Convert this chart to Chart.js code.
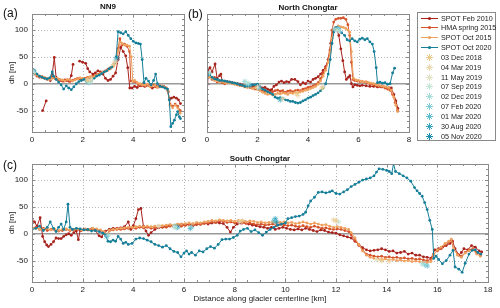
<!DOCTYPE html>
<html>
<head>
<meta charset="utf-8">
<script src="https://cdn.jsdelivr.net/npm/chart.js@4"></script>
<style>
  body { margin: 0; background: #fff; font-family: 'Liberation Sans', Arial, sans-serif; }
  #wrap { position: relative; width: 500px; height: 308px; overflow: hidden; }
  canvas { position: absolute; }
  .txt { position: absolute; color: #111; white-space: nowrap; }
  .ttl { font-weight: bold; font-size: 8px; transform: translate(-50%, -50%); }
  .pl { font-size: 12px; transform: translateY(-50%); }
  #legend { position: absolute; left: 417px; top: 12px; width: 77px; height: 127px; border: 1px solid #8a8a8a; background: #fff; }
  .row { position: absolute; left: 3px; height: 10px; display: flex; align-items: center; font-size: 7.2px; color: #222; white-space: nowrap; }
  .row svg { margin-right: 3px; flex: none; }
</style>
</head>
<body>
<div id="wrap">
  <canvas id="cA" width="190" height="145" style="left:0;top:0"></canvas>
  <canvas id="cB" width="225" height="145" style="left:190px;top:0"></canvas>
  <canvas id="cC" width="500" height="163" style="left:0;top:145px"></canvas>
  <div class="txt ttl" style="left:108px;top:6px">NN9</div>
  <div class="txt ttl" style="left:308px;top:7px">North Chongtar</div>
  <div class="txt ttl" style="left:260px;top:158px">South Chongtar</div>
  <div class="txt pl" style="left:3px;top:13px">(a)</div>
  <div class="txt pl" style="left:188px;top:14px">(b)</div>
  <div class="txt pl" style="left:3px;top:165px">(c)</div>
  <div id="legend"></div>
</div>
<script>
// series names and colours
const seriesNames = ['SPOT Feb 2010', 'HMA spring 2015', 'SPOT Oct 2015', 'SPOT Oct 2020'];
const seriesColors = ['#a8221c', '#d5532b', '#eea15e', '#157e98'];
const dateNames = ['03 Dec 2018', '04 Mar 2019', '11 May 2019', '07 Sep 2019', '02 Dec 2019',
                   '07 Feb 2020', '01 Mar 2020', '30 Aug 2020', '05 Nov 2020'];
const dateColors = ['#ebc98a', '#ead7b0', '#e2e2c4', '#c4e6d6', '#a6dcd8', '#84ccd4', '#5cbccc', '#34a4bc', '#1b8cac'];

// (a) NN9  [km, dh]
const nn9Feb2010 = [[0.42,-50],[0.56,-32],[0.6,null],[0.72,6],[0.8,18],[0.88,49],[0.95,12],[1.05,8],[1.15,6],[1.25,5],[1.35,6],[1.45,5],[1.55,15],[1.62,36],[1.75,null],
  [1.88,42],[2.0,40],[2.12,38],[2.2,28],[2.28,22],[2.4,18],[2.5,20],[2.6,24],[2.7,22],[2.8,18],[2.9,10],[3.0,6],[3.1,8],[3.2,14],[3.3,20],[3.4,45],[3.5,68],[3.6,60],
  [3.7,52],[3.78,30],[3.86,-8],[3.95,-8],[4.05,-5],[4.15,-7],[4.3,-4],[4.45,-5],[4.6,-3],[4.75,-8],[4.9,-5],[5.05,-4],[5.2,-6],[5.35,-12],[5.42,-30],[5.5,-27],[5.6,-25],
  [5.7,-27],[5.78,-30],[5.86,-37]];
const nn9Hma2015 = [[0,20],[0.1,18],[0.2,14],[0.3,12],[0.4,13],[0.5,10],[0.6,8],[0.7,9],[0.8,12],[0.9,10],[1.0,8],[1.1,6],[1.2,5],[1.3,7],[1.4,6],[1.5,4],[1.6,6],[1.7,8],
  [1.8,10],[1.9,9],[2.0,8],[2.1,10],[2.2,12],[2.3,10],[2.4,14],[2.5,16],[2.6,18],[2.7,20],[2.8,21],[2.9,24],[3.0,27],[3.1,30],[3.2,33],[3.3,40],[3.4,66],[3.47,84],
  [3.55,72],[3.65,74],[3.75,70],[3.85,60],[3.9,5],[4.0,4],[4.1,3],[4.2,-2],[4.3,-3],[4.4,0],[4.5,-4],[4.6,-3],[4.7,-6],[4.8,-2],[4.9,-6],[5.0,-6],[5.1,-5],[5.2,-5],
  [5.3,-8],[5.38,-15],[5.45,-38],[5.55,-42],[5.65,-38],[5.75,-42],[5.85,-50]];
const nn9Oct2015 = [[0,16],[0.1,20],[0.2,16],[0.3,14],[0.4,11],[0.5,12],[0.6,10],[0.7,8],[0.8,10],[0.9,12],[1.0,10],[1.1,8],[1.2,7],[1.3,5],[1.4,8],[1.5,7],[1.6,5],[1.7,7],
  [1.8,9],[1.9,11],[2.0,10],[2.1,8],[2.2,11],[2.3,13],[2.4,12],[2.5,15],[2.6,17],[2.7,19],[2.8,22],[2.9,23],[3.0,25],[3.1,28],[3.2,32],[3.3,38],[3.4,60],[3.47,78],
  [3.55,75],[3.65,72],[3.75,72],[3.85,70],[3.92,50],[3.98,5],[4.05,6],[4.15,2],[4.25,0],[4.35,-2],[4.45,-3],[4.55,-1],[4.65,-5],[4.75,-4],[4.85,-3],[4.95,-7],[5.05,-6],
  [5.15,-4],[5.25,-7],[5.35,-12],[5.45,-40],[5.55,-45],[5.65,-40],[5.75,-45],[5.85,-55]];
const nn9Oct2020 = [[0,22],[0.1,25],[0.2,18],[0.3,14],[0.4,12],[0.5,10],[0.6,9],[0.7,11],[0.8,22],[0.85,14],[0.95,8],[1.05,3],[1.15,-2],[1.25,-10],[1.35,-4],[1.45,-8],
  [1.55,-11],[1.65,-6],[1.75,0],[1.85,4],[1.95,6],[2.05,8],[2.15,5],[2.25,3],[2.35,6],[2.45,10],[2.55,14],[2.65,16],[2.75,19],[2.85,22],[2.95,24],[3.05,28],[3.15,31],
  [3.25,38],[3.32,50],[3.4,97],[3.5,95],[3.6,93],[3.7,97],[3.8,90],[3.9,84],[4.0,79],[4.1,76],[4.2,75],[4.28,74],[4.35,45],[4.42,2],[4.5,10],[4.6,5],[4.7,-2],[4.8,6],
  [4.88,18],[4.95,0],[5.05,-5],[5.15,-6],[5.25,-8],[5.35,-10],[5.42,-30],[5.48,-80],[5.55,-74],[5.62,-68],[5.7,-58],[5.75,-52],[5.82,-62],[5.86,-65]];

// (b) North Chongtar
const ncFeb2010 = [[0,-33],[0.05,27],[0.12,30],[0.2,22],[0.32,37],[0.4,10],[0.5,15],[0.55,18],[0.6,5],[0.7,5],[0.8,4],[0.9,3],[1.0,2],[1.1,1],[1.2,0],[1.3,-1],[1.4,-2],
  [1.5,-3],[1.6,-5],[1.7,-4],[1.8,-4],[1.9,-5],[2.0,-4],[2.1,-6],[2.2,-8],[2.3,-7],[2.4,-10],[2.5,-12],[2.56,-11],[2.65,-5],[2.75,-2],[2.85,3],[2.95,5],[3.05,2],[3.15,4],
  [3.25,3],[3.35,8],[3.48,8],[3.6,4],[3.7,-2],[3.8,2],[3.9,0],[4.0,5],[4.1,3],[4.2,8],[4.3,10],[4.4,13],[4.5,18],[4.6,25],[4.7,32],[4.8,45],[4.9,75],[4.99,100],[5.08,104],
  [5.15,100],[5.22,90],[5.3,65],[5.38,43],[5.45,22],[5.52,8],[5.6,12],[5.66,15],[5.72,0],[5.78,-6],[5.85,-2],[5.95,-3],[6.05,-4],[6.15,-3],[6.3,-4],[6.45,-5],[6.6,-5],
  [6.75,-6],[6.9,-6],[7.05,-7],[7.2,-8],[7.3,-8],[7.4,-20],[7.48,-32],[7.56,-46]];
const ncHma2015 = [[0,20],[0.1,15],[0.2,8],[0.3,12],[0.4,3],[0.5,5],[0.6,2],[0.7,0],[0.8,2],[0.9,3],[1.0,1],[1.1,0],[1.2,-2],[1.3,-3],[1.4,-4],[1.5,-6],[1.6,-5],[1.7,-7],
  [1.8,-8],[1.9,-10],[2.0,-9],[2.1,-11],[2.2,-14],[2.3,-15],[2.4,-14],[2.5,-16],[2.6,-15],[2.7,-13],[2.8,-12],[2.9,-14],[3.0,-13],[3.1,-16],[3.2,-14],[3.3,-13],[3.4,-15],
  [3.5,-13],[3.6,-12],[3.7,-13],[3.8,-10],[3.9,-9],[4.0,-7],[4.1,-6],[4.2,-4],[4.3,-2],[4.4,2],[4.5,10],[4.6,20],[4.7,30],[4.8,45],[4.87,62],[4.95,100],[5.02,115],
  [5.1,120],[5.2,122],[5.3,122],[5.4,123],[5.5,120],[5.58,110],[5.65,90],[5.72,40],[5.78,8],[5.85,6],[5.95,5],[6.05,4],[6.15,4],[6.25,3],[6.35,2],[6.45,0],[6.55,-1],
  [6.65,-3],[6.75,-4],[6.85,-5],[6.95,-6],[7.05,-8],[7.15,-10],[7.25,-12],[7.35,-20],[7.45,-35],[7.55,-50]];
const ncOct2015 = [[0,18],[0.1,12],[0.2,10],[0.3,6],[0.4,5],[0.5,3],[0.6,4],[0.7,2],[0.8,1],[0.9,2],[1.0,0],[1.1,-1],[1.2,-1],[1.3,-4],[1.4,-3],[1.5,-5],[1.6,-7],[1.7,-6],
  [1.8,-9],[1.9,-8],[2.0,-11],[2.1,-13],[2.2,-16],[2.3,-18],[2.4,-20],[2.5,-19],[2.6,-21],[2.7,-20],[2.8,-18],[2.9,-19],[3.0,-17],[3.1,-18],[3.2,-20],[3.3,-17],[3.4,-18],
  [3.5,-16],[3.6,-17],[3.7,-15],[3.8,-14],[3.9,-12],[4.0,-11],[4.1,-9],[4.2,-7],[4.3,-5],[4.4,-1],[4.5,5],[4.6,14],[4.7,25],[4.8,40],[4.87,58],[4.95,85],[5.02,100],
  [5.1,105],[5.2,108],[5.3,106],[5.4,105],[5.5,103],[5.58,100],[5.65,96],[5.72,60],[5.8,10],[5.9,7],[6.0,6],[6.1,5],[6.2,3],[6.3,4],[6.4,2],[6.5,1],[6.6,0],[6.7,-2],
  [6.8,-3],[6.9,-4],[7.0,-5],[7.1,-6],[7.2,-8],[7.3,-12],[7.4,-25],[7.48,-40],[7.55,-52]];
const ncOct2020 = [[0,15],[0.1,18],[0.2,12],[0.3,9],[0.4,8],[0.5,6],[0.6,6],[0.7,5],[0.8,4],[0.9,3],[1.0,2],[1.1,1],[1.2,0],[1.3,-2],[1.4,-3],[1.5,-5],[1.6,-4],[1.7,-3],
  [1.8,-2],[1.9,-2],[2.0,-1],[2.1,-6],[2.2,-10],[2.3,-12],[2.4,-15],[2.5,-17],[2.6,-20],[2.7,-25],[2.8,-27],[2.9,-26],[3.0,-28],[3.1,-30],[3.2,-31],[3.3,-33],[3.4,-33],
  [3.5,-35],[3.6,-36],[3.7,-35],[3.8,-32],[3.9,-30],[4.0,-27],[4.1,-25],[4.2,-22],[4.3,-20],[4.4,-17],[4.5,-13],[4.6,-8],[4.7,0],[4.8,18],[4.88,45],[4.95,75],[5.03,97],
  [5.13,105],[5.23,102],[5.33,95],[5.45,90],[5.55,82],[5.65,80],[5.75,84],[5.85,80],[5.95,78],[6.05,83],[6.15,85],[6.25,82],[6.35,84],[6.45,78],[6.55,74],[6.62,60],
  [6.7,30],[6.75,2],[6.85,3],[6.95,1],[7.05,2],[7.15,-1],[7.25,0],[7.35,20],[7.43,29]];

// (c) South Chongtar
const scFeb2010 = [[0,26],[0.1,22],[0.2,14],[0.32,30],[0.42,-5],[0.5,-15],[0.58,-21],[0.65,-24],[0.75,-20],[0.85,-15],[0.95,-8],[1.05,-9],[1.15,-9],[1.25,-5],[1.35,-2],
  [1.45,0],[1.55,-3],[1.65,2],[1.75,5],[1.83,-11],[1.9,6],[2.05,8],[2.2,7],[2.35,9],[2.5,6],[2.65,-4],[2.75,-6],[2.9,5],[3.05,8],[3.2,10],[3.35,10],[3.5,11],[3.65,13],
  [3.8,22],[3.9,8],[4.0,15],[4.1,28],[4.2,45],[4.3,47],[4.4,14],[4.5,5],[4.6,-3],[4.7,2],[4.85,8],[5.0,11],[5.15,12],[5.3,14],[5.45,16],[5.6,14],[5.75,17],[5.9,18],
  [6.05,16],[6.2,18],[6.35,15],[6.5,17],[6.65,19],[6.8,20],[6.95,18],[7.1,20],[7.25,21],[7.4,20],[7.55,19],[7.7,12],[7.83,3],[7.95,12],[8.1,18],[8.25,20],[8.4,22],
  [8.55,18],[8.7,16],[8.85,15],[9.0,13],[9.15,12],[9.3,10],[9.45,12],[9.6,8],[9.75,10],[9.9,12],[10.05,10],[10.2,8],[10.35,7],[10.5,9],[10.65,7],[10.8,10],[10.95,8],
  [11.1,6],[11.25,4],[11.4,7],[11.55,6],[11.7,3],[11.85,2],[12.0,1],[12.15,-2],[12.3,-4],[12.45,-6],[12.6,-8],[12.75,-14],[12.9,-20],[13.05,-26],[13.2,-30],[13.35,-32],
  [13.5,-31],[13.65,-30],[13.8,-28],[13.95,-30],[14.1,-33],[14.25,-32],[14.4,-36],[14.55,-35],[14.7,-33],[14.85,-38],[15.0,-36],[15.15,-40],[15.3,-40],[15.45,-43],
  [15.6,-44],[15.75,-46],[15.9,-30],[16.05,-28],[16.2,-25],[16.35,-22],[16.5,-18],[16.6,-14],[16.7,-28],[16.85,-40],[16.95,-35],[17.05,-28],[17.2,-30],[17.35,-22],
  [17.5,-25],[17.65,-32],[17.75,-34]];
const scHma2015 = [[0,10],[0.15,12],[0.3,8],[0.45,10],[0.6,6],[0.75,8],[0.9,7],[1.05,5],[1.2,6],[1.35,8],[1.5,6],[1.65,7],[1.8,8],[1.95,6],[2.1,8],[2.25,7],[2.4,9],
  [2.55,8],[2.7,6],[2.85,3],[2.95,-2],[3.05,5],[3.2,7],[3.35,8],[3.5,8],[3.65,9],[3.8,10],[3.95,11],[4.1,10],[4.25,12],[4.4,11],[4.55,12],[4.7,10],[4.85,11],[5.0,12],
  [5.15,13],[5.3,12],[5.45,14],[5.6,13],[5.75,15],[5.9,14],[6.05,16],[6.2,17],[6.35,16],[6.5,18],[6.65,17],[6.8,19],[6.95,20],[7.1,22],[7.25,21],[7.4,24],[7.55,23],
  [7.7,21],[7.85,22],[8.0,20],[8.15,22],[8.3,20],[8.45,19],[8.6,20],[8.75,18],[8.9,17],[9.05,18],[9.2,16],[9.35,17],[9.5,18],[9.65,15],[9.8,17],[9.95,16],[10.1,15],
  [10.25,16],[10.4,14],[10.55,13],[10.7,15],[10.85,13],[11.0,12],[11.15,14],[11.3,12],[11.45,10],[11.6,11],[11.75,9],[11.9,8],[12.05,9],[12.2,8],[12.35,6],[12.5,4],
  [12.6,-2],[12.75,-12],[12.9,-22],[13.05,-30],[13.2,-38],[13.35,-40],[13.5,-42],[13.65,-43],[13.8,-42],[13.95,-44],[14.1,-43],[14.25,-45],[14.4,-44],[14.55,-46],
  [14.7,-45],[14.85,-47],[15.0,-46],[15.15,-48],[15.3,-47],[15.45,-49],[15.6,-50],[15.75,-48],[15.85,-38],[16.0,-32],[16.15,-28],[16.3,-22],[16.45,-16],[16.55,-12],
  [16.65,-30],[16.8,-38],[16.95,-42],[17.1,-35],[17.25,-30],[17.4,-28],[17.55,-35],[17.7,-40]];
const scOct2015 = [[0,12],[0.15,10],[0.3,9],[0.45,8],[0.6,10],[0.75,7],[0.9,8],[1.05,6],[1.2,8],[1.35,9],[1.5,7],[1.65,8],[1.8,9],[1.95,7],[2.1,9],[2.25,8],[2.4,10],
  [2.55,9],[2.7,7],[2.85,4],[2.95,-4],[3.05,6],[3.2,8],[3.35,9],[3.5,10],[3.65,11],[3.8,12],[3.95,12],[4.1,13],[4.25,14],[4.4,13],[4.55,14],[4.7,13],[4.85,14],[5.0,15],
  [5.15,15],[5.3,16],[5.45,17],[5.6,16],[5.75,18],[5.9,18],[6.05,19],[6.2,20],[6.35,19],[6.5,21],[6.65,20],[6.8,22],[6.95,23],[7.1,25],[7.25,24],[7.4,26],[7.55,25],
  [7.7,24],[7.85,25],[8.0,23],[8.15,25],[8.3,24],[8.45,22],[8.6,24],[8.75,23],[8.9,21],[9.05,22],[9.2,20],[9.35,21],[9.5,22],[9.65,20],[9.8,21],[9.95,22],[10.1,20],
  [10.25,21],[10.4,19],[10.55,20],[10.7,22],[10.85,20],[11.0,18],[11.15,20],[11.3,18],[11.45,16],[11.6,17],[11.75,14],[11.9,12],[12.05,13],[12.2,12],[12.35,10],[12.5,8],
  [12.6,2],[12.75,-8],[12.9,-20],[13.05,-32],[13.2,-40],[13.35,-44],[13.5,-46],[13.65,-47],[13.8,-48],[13.95,-47],[14.1,-49],[14.25,-48],[14.4,-50],[14.55,-49],
  [14.7,-51],[14.85,-50],[15.0,-52],[15.15,-51],[15.3,-52],[15.45,-53],[15.6,-54],[15.75,-52],[15.85,-40],[16.0,-30],[16.15,-25],[16.3,-18],[16.45,-14],[16.55,-10],
  [16.65,-28],[16.8,-40],[16.95,-44],[17.1,-36],[17.25,-32],[17.4,-30],[17.55,-38],[17.7,-42]];
const scOct2020 = [[0,8],[0.15,10],[0.3,14],[0.45,6],[0.6,12],[0.72,22],[0.85,10],[0.95,4],[1.05,12],[1.15,18],[1.25,8],[1.35,22],[1.42,55],[1.5,12],[1.6,8],[1.75,10],
  [1.9,9],[2.05,7],[2.2,8],[2.35,5],[2.5,6],[2.65,4],[2.8,1],[2.9,-2],[3.0,-14],[3.1,-15],[3.2,-12],[3.3,-14],[3.4,-5],[3.5,-10],[3.6,-18],[3.7,-16],[3.8,-20],[3.95,-18],
  [4.1,-10],[4.25,-8],[4.4,-9],[4.55,-12],[4.7,-15],[4.85,-20],[5.0,-22],[5.15,-25],[5.3,-22],[5.45,-28],[5.6,-33],[5.75,-35],[5.88,-43],[6.0,-36],[6.1,-32],[6.2,-38],
  [6.3,-35],[6.45,-40],[6.6,-32],[6.75,-34],[6.9,-28],[7.05,-24],[7.2,-27],[7.35,-20],[7.5,-11],[7.65,-10],[7.8,-10],[7.95,-7],[8.1,-3],[8.22,5],[8.35,8],[8.5,10],
  [8.65,4],[8.8,7],[8.95,2],[9.1,-3],[9.25,3],[9.4,8],[9.55,12],[9.7,16],[9.85,18],[10.0,20],[10.1,28],[10.25,30],[10.4,32],[10.55,33],[10.7,36],[10.8,40],[10.9,52],
  [11.0,61],[11.15,68],[11.3,77],[11.45,78],[11.6,76],[11.75,78],[11.85,80],[12.0,75],[12.15,74],[12.3,78],[12.45,82],[12.6,88],[12.75,92],[12.9,96],[13.05,100],
  [13.2,102],[13.35,104],[13.5,108],[13.6,115],[13.7,121],[13.85,120],[14.0,118],[14.1,116],[14.2,112],[14.27,130],[14.35,116],[14.5,112],[14.65,108],[14.8,104],
  [14.95,98],[15.1,86],[15.2,80],[15.3,75],[15.4,70],[15.5,58],[15.6,45],[15.7,25],[15.8,8],[15.86,-46],[15.95,-42],[16.05,-48],[16.2,-56],[16.35,-50],[16.5,-40],
  [16.62,-31],[16.7,-62],[16.85,-66],[16.98,-72],[17.1,-55],[17.25,-38],[17.38,-31],[17.5,-30],[17.6,-35],[17.72,-38]];

// dated DEM profiles (asterisks), one list per date
const starsA = [[[2.2,6],[3.22,36]], [[3.28,40]], [[2.35,8]], [[0.05,21],[2.28,3]], [[0,18],[2.18,5]],
  [[0.08,24],[3.3,44]], [[2.25,2]], [[0.02,20],[2.2,4]], [[3.35,48]]];
const starsB = [[[3.55,-18],[4.55,-8]], [[3.0,-28],[3.6,-22]], [[2.0,-6],[4.6,-6]], [[1.55,2],[5.15,100]],
  [[0.1,20],[1.65,0],[5.25,98]], [[1.5,4],[5.05,102]], [[2.05,-8],[5.2,103]], [[1.6,-2],[2.9,-30]], [[0.05,18],[1.7,-3]]];
const starsC = [[[8.3,24],[12.0,24],[13.8,-50]], [[11.9,26],[14.1,-52]], [[5.0,14],[8.2,22],[13.6,-48]], [[5.6,13],[12.1,22]],
  [[3.0,-3],[5.7,11],[15.4,-56]], [[6.3,12],[15.5,-58]], [[5.65,14],[9.55,24],[15.6,-60]], [[9.6,28],[6.25,10],[2.95,-5]], [[9.65,22],[5.75,12]]];

const yMin = -90, yMax = 130;
const yTicks = [-50, 0, 50, 100];
const FONT = "'Liberation Sans', Arial, sans-serif";

// frame, dotted grid, zero line and inward tick marks like the original
const framePlugin = {
  id: 'frame',
  beforeDatasetsDraw(chart, args, opts) {
    const { ctx, chartArea: a, scales: { x, y } } = chart;
    ctx.save();
    ctx.lineWidth = 1;
    ctx.strokeStyle = '#b8b8b8';
    ctx.setLineDash([1, 2]);
    ctx.beginPath();
    opts.xTicks.forEach(v => {
      const px = Math.round(x.getPixelForValue(v)) + 0.5;
      if (px > a.left + 1 && px < a.right - 1) { ctx.moveTo(px, a.top); ctx.lineTo(px, a.bottom); }
    });
    yTicks.forEach(v => {
      if (v === 0) return;
      const py = Math.round(y.getPixelForValue(v)) + 0.5;
      ctx.moveTo(a.left, py); ctx.lineTo(a.right, py);
    });
    ctx.stroke();
    ctx.setLineDash([]);
    ctx.strokeStyle = '#9a9a9a';
    ctx.lineWidth = 1.5;
    const p0 = y.getPixelForValue(0);
    ctx.beginPath(); ctx.moveTo(a.left, p0); ctx.lineTo(a.right, p0); ctx.stroke();
    ctx.restore();
  },
  afterDatasetsDraw(chart, args, opts) {
    const { ctx, chartArea: a, scales: { x, y } } = chart;
    ctx.save();
    ctx.strokeStyle = '#8a8a8a';
    ctx.lineWidth = 1;
    ctx.beginPath();
    for (let v = x.min; v <= x.max + 1e-9; v += opts.xMinor) {
      const px = Math.round(x.getPixelForValue(v)) + 0.5;
      const len = opts.xTicks.some(t => Math.abs(t - v) < 1e-6) ? 3 : 2;
      ctx.moveTo(px, a.bottom); ctx.lineTo(px, a.bottom - len);
      ctx.moveTo(px, a.top); ctx.lineTo(px, a.top + len);
    }
    for (let v = -90; v <= 130; v += 10) {
      const py = Math.round(y.getPixelForValue(v)) + 0.5;
      const len = yTicks.includes(v) ? 3 : 2;
      ctx.moveTo(a.left, py); ctx.lineTo(a.left + len, py);
      ctx.moveTo(a.right, py); ctx.lineTo(a.right - len, py);
    }
    ctx.stroke();
    ctx.strokeRect(Math.round(a.left) + 0.5, Math.round(a.top) + 0.5, Math.round(a.right - a.left), Math.round(a.bottom - a.top));
    ctx.restore();
  }
};

function lineSet(i, pts) {
  return {
    label: seriesNames[i],
    data: pts.map(p => ({ x: p[0], y: p[1] })),
    showLine: true,
    spanGaps: false,
    borderColor: seriesColors[i],
    backgroundColor: seriesColors[i],
    borderWidth: 1,
    pointRadius: 1.4,
    pointBorderWidth: 0,
    order: 5 - i
  };
}

function starSets(stars) {
  return stars.map((pts, i) => ({
    label: dateNames[i],
    data: pts.map(p => ({ x: p[0], y: p[1] })),
    showLine: false,
    pointStyle: 'star',
    pointRadius: 2.8,
    borderWidth: 0.8,
    borderColor: dateColors[i],
    backgroundColor: dateColors[i],
    order: 0
  }));
}

function makeChart(id, lines, stars, cfg) {
  const datasets = lines.map((pts, i) => lineSet(i, pts)).concat(starSets(stars));
  const tickFont = { family: FONT, size: 8 };
  return new Chart(document.getElementById(id), {
    type: 'scatter',
    data: { datasets },
    plugins: [framePlugin],
    options: {
      responsive: false,
      animation: false,
      events: [],
      layout: { padding: cfg.padding },
      plugins: {
        legend: { display: false },
        tooltip: { enabled: false },
        frame: { xTicks: cfg.xTicks, xMinor: 0.5 }
      },
      scales: {
        x: {
          type: 'linear', min: 0, max: cfg.xMax,
          grid: { display: false, drawTicks: false },
          border: { display: false },
          afterBuildTicks: s => { s.ticks = cfg.xTicks.map(v => ({ value: v })); },
          afterFit: s => { s.height = cfg.xHeight; },
          ticks: { padding: 3, color: '#222', font: tickFont, maxRotation: 0 },
          title: cfg.xTitle ? { display: true, text: cfg.xTitle, color: '#222', font: tickFont, padding: { top: 0, bottom: 4 } } : { display: false }
        },
        y: {
          min: yMin, max: yMax,
          grid: { display: false, drawTicks: false },
          border: { display: false },
          afterBuildTicks: s => { s.ticks = yTicks.map(v => ({ value: v })); },
          afterFit: s => { s.width = cfg.yWidth; },
          ticks: { display: cfg.yLabels, padding: 4, color: '#222', font: tickFont },
          title: cfg.yLabels ? { display: true, text: 'dh [m]', color: '#222', font: tickFont, padding: { top: 7, bottom: 0 } } : { display: false }
        }
      }
    }
  });
}

makeChart('cA', [nn9Feb2010, nn9Hma2015, nn9Oct2015, nn9Oct2020], starsA,
  { padding: { top: 14, right: 6, left: 0, bottom: 0 }, xMax: 6, xTicks: [0, 2, 4, 6], xHeight: 13, yWidth: 32, yLabels: true });
makeChart('cB', [ncFeb2010, ncHma2015, ncOct2015, ncOct2020], starsB,
  { padding: { top: 14, right: 6, left: 0, bottom: 0 }, xMax: 8, xTicks: [0, 2, 4, 6, 8], xHeight: 13, yWidth: 17, yLabels: false });
makeChart('cC', [scFeb2010, scHma2015, scOct2015, scOct2020], starsC,
  { padding: { top: 19, right: 12, left: 0, bottom: 0 }, xMax: 18, xTicks: [0, 2, 4, 6, 8, 10, 12, 14, 16, 18], xHeight: 26, yWidth: 32, yLabels: true,
    xTitle: 'Distance along glacier centerline [km]' });

// legend box
const legend = document.getElementById('legend');
function addRow(i, label, color, star) {
  const row = document.createElement('div');
  row.className = 'row';
  row.style.top = (i * 9.85) + 'px';
  const sym = star
    ? `<svg width="17" height="9"><g stroke="${color}" stroke-width="1"><line x1="5" y1="4.5" x2="12" y2="4.5"/><line x1="8.5" y1="1" x2="8.5" y2="8"/><line x1="6" y1="2" x2="11" y2="7"/><line x1="6" y1="7" x2="11" y2="2"/></g></svg>`
    : `<svg width="17" height="9"><line x1="0" y1="4.5" x2="17" y2="4.5" stroke="${color}" stroke-width="1"/><circle cx="8.5" cy="4.5" r="1.6" fill="${color}"/></svg>`;
  row.innerHTML = sym + '<span>' + label + '</span>';
  legend.appendChild(row);
}
seriesNames.forEach((n, i) => addRow(i, n, seriesColors[i], false));
dateNames.forEach((n, i) => addRow(i + 4, n, dateColors[i], true));
</script>
</body>
</html>
